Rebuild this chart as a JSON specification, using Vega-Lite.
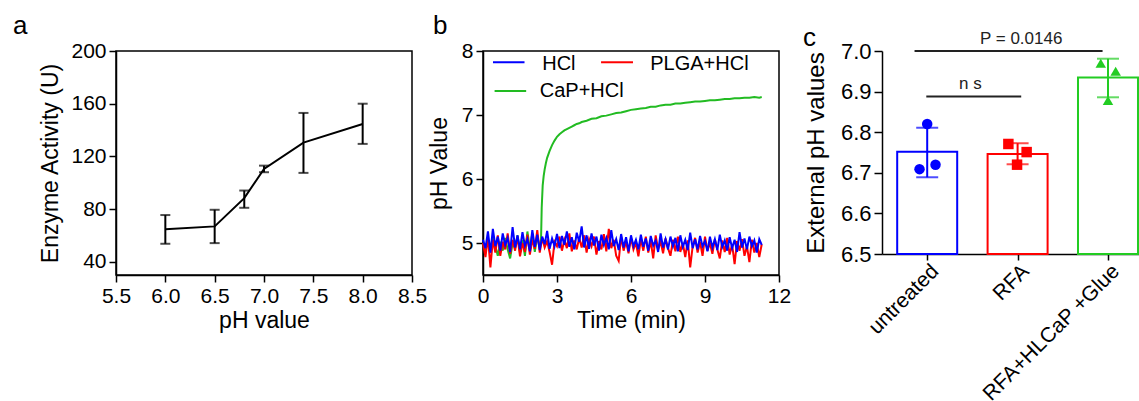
{
"$schema":"https://vega.github.io/schema/vega-lite/v6.json",
"background":"white",
"padding":{"left":12,"top":12,"right":0,"bottom":0},
"config":{
 "font":"Liberation Sans",
 "view":{"stroke":"black","strokeWidth":1.5},
 "axis":{"domainColor":"black","domainWidth":1.5,"tickColor":"black","tickWidth":1.5,"tickSize":7,"labelColor":"black","titleColor":"black","labelFontSize":21,"titleFontSize":23,"titleFontWeight":"normal","grid":false,"labelFlush":false,"labelPadding":3,"labelOverlap":false},
 "title":{"fontSize":26,"fontWeight":"normal","anchor":"start","frame":"group","color":"black","offset":1}
},
"datasets":{
 "enz":[{"ph":6.0,"mean":64.8,"lo":53.7,"hi":75.5},{"ph":6.5,"mean":66.9,"lo":54.2,"hi":79.5},{"ph":6.8,"mean":88.3,"lo":81,"hi":94.1},{"ph":7.0,"mean":110.5,"lo":108,"hi":113},{"ph":7.4,"mean":130.5,"lo":107.5,"hi":153},{"ph":8.0,"mean":144.6,"lo":129.5,"hi":160}],
 "noise":[
{"t":0,"HCl":5.05,"PLGA+HCl":5.0},{"t":0.1,"HCl":4.92,"PLGA+HCl":4.78},{"t":0.2,"HCl":5.18,"PLGA+HCl":5.1},{"t":0.3,"HCl":4.85,"PLGA+HCl":4.62},{"t":0.4,"HCl":5.22,"PLGA+HCl":5.05},{"t":0.5,"HCl":4.95,"PLGA+HCl":4.85},{"t":0.6,"HCl":5.1,"PLGA+HCl":5.12},{"t":0.7,"HCl":4.88,"PLGA+HCl":4.8},{"t":0.8,"HCl":5.15,"PLGA+HCl":5.02},{"t":0.9,"HCl":4.97,"PLGA+HCl":4.9},
{"t":1.0,"HCl":5.08,"PLGA+HCl":5.15},{"t":1.1,"HCl":4.86,"PLGA+HCl":4.83},{"t":1.2,"HCl":5.25,"PLGA+HCl":5.05},{"t":1.3,"HCl":4.93,"PLGA+HCl":4.88},{"t":1.4,"HCl":5.12,"PLGA+HCl":5.1},{"t":1.5,"HCl":4.9,"PLGA+HCl":4.79},{"t":1.6,"HCl":5.17,"PLGA+HCl":5.0},{"t":1.7,"HCl":4.96,"PLGA+HCl":4.86},{"t":1.8,"HCl":5.06,"PLGA+HCl":5.13},{"t":1.9,"HCl":4.87,"PLGA+HCl":4.82},
{"t":2.0,"HCl":5.2,"PLGA+HCl":5.05},{"t":2.1,"HCl":4.94,"PLGA+HCl":4.91},{"t":2.2,"HCl":5.13,"PLGA+HCl":5.2},{"t":2.3,"HCl":4.89,"PLGA+HCl":4.85},{"t":2.4,"HCl":5.1,"PLGA+HCl":5.08},{"t":2.5,"HCl":4.98,"PLGA+HCl":4.93},{"t":2.6,"HCl":5.19,"PLGA+HCl":5.03},{"t":2.7,"HCl":4.91,"PLGA+HCl":4.86},{"t":2.8,"HCl":5.07,"PLGA+HCl":4.66},{"t":2.9,"HCl":4.95,"PLGA+HCl":5.02},
{"t":3.0,"HCl":5.14,"PLGA+HCl":4.95},{"t":3.1,"HCl":4.92,"PLGA+HCl":5.1},{"t":3.2,"HCl":5.11,"PLGA+HCl":4.88},{"t":3.3,"HCl":4.97,"PLGA+HCl":5.05},{"t":3.4,"HCl":5.18,"PLGA+HCl":4.92},{"t":3.5,"HCl":4.94,"PLGA+HCl":5.15},{"t":3.6,"HCl":5.09,"PLGA+HCl":4.87},{"t":3.7,"HCl":4.9,"PLGA+HCl":5.04},{"t":3.8,"HCl":5.16,"PLGA+HCl":4.9},{"t":3.9,"HCl":5.02,"PLGA+HCl":5.08},
{"t":4.0,"HCl":5.26,"PLGA+HCl":4.93},{"t":4.1,"HCl":4.93,"PLGA+HCl":5.12},{"t":4.2,"HCl":5.12,"PLGA+HCl":4.85},{"t":4.3,"HCl":4.91,"PLGA+HCl":5.06},{"t":4.4,"HCl":5.15,"PLGA+HCl":4.95},{"t":4.5,"HCl":4.96,"PLGA+HCl":5.1},{"t":4.6,"HCl":5.1,"PLGA+HCl":4.82},{"t":4.7,"HCl":4.88,"PLGA+HCl":5.03},{"t":4.8,"HCl":5.13,"PLGA+HCl":4.9},{"t":4.9,"HCl":4.97,"PLGA+HCl":5.14},
{"t":5.0,"HCl":5.08,"PLGA+HCl":4.87},{"t":5.1,"HCl":4.9,"PLGA+HCl":5.22},{"t":5.2,"HCl":5.2,"PLGA+HCl":4.92},{"t":5.3,"HCl":4.95,"PLGA+HCl":5.05},{"t":5.4,"HCl":5.06,"PLGA+HCl":4.8},{"t":5.5,"HCl":4.89,"PLGA+HCl":4.72},{"t":5.6,"HCl":5.14,"PLGA+HCl":5.1},{"t":5.7,"HCl":4.93,"PLGA+HCl":4.88},{"t":5.8,"HCl":5.09,"PLGA+HCl":5.02},{"t":5.9,"HCl":4.87,"PLGA+HCl":4.84},
{"t":6.0,"HCl":5.12,"PLGA+HCl":5.08},{"t":6.1,"HCl":4.95,"PLGA+HCl":4.9},{"t":6.2,"HCl":5.05,"PLGA+HCl":5.0},{"t":6.3,"HCl":4.9,"PLGA+HCl":4.79},{"t":6.4,"HCl":5.13,"PLGA+HCl":5.06},{"t":6.5,"HCl":4.94,"PLGA+HCl":4.88},{"t":6.6,"HCl":5.07,"PLGA+HCl":5.1},{"t":6.7,"HCl":4.88,"PLGA+HCl":4.85},{"t":6.8,"HCl":5.11,"PLGA+HCl":5.03},{"t":6.9,"HCl":4.96,"PLGA+HCl":4.76},
{"t":7.0,"HCl":5.04,"PLGA+HCl":5.12},{"t":7.1,"HCl":4.86,"PLGA+HCl":4.9},{"t":7.2,"HCl":5.15,"PLGA+HCl":5.02},{"t":7.3,"HCl":4.93,"PLGA+HCl":4.84},{"t":7.4,"HCl":5.06,"PLGA+HCl":5.07},{"t":7.5,"HCl":4.9,"PLGA+HCl":4.92},{"t":7.6,"HCl":5.1,"PLGA+HCl":4.8},{"t":7.7,"HCl":4.95,"PLGA+HCl":5.05},{"t":7.8,"HCl":5.08,"PLGA+HCl":4.87},{"t":7.9,"HCl":4.87,"PLGA+HCl":5.1},
{"t":8.0,"HCl":5.12,"PLGA+HCl":4.86},{"t":8.1,"HCl":4.94,"PLGA+HCl":5.0},{"t":8.2,"HCl":5.05,"PLGA+HCl":4.78},{"t":8.3,"HCl":4.89,"PLGA+HCl":5.04},{"t":8.4,"HCl":5.16,"PLGA+HCl":4.62},{"t":8.5,"HCl":4.92,"PLGA+HCl":4.95},{"t":8.6,"HCl":5.06,"PLGA+HCl":5.08},{"t":8.7,"HCl":4.9,"PLGA+HCl":4.85},{"t":8.8,"HCl":5.11,"PLGA+HCl":5.02},{"t":8.9,"HCl":4.95,"PLGA+HCl":4.8},
{"t":9.0,"HCl":5.03,"PLGA+HCl":5.1},{"t":9.1,"HCl":4.87,"PLGA+HCl":4.88},{"t":9.2,"HCl":5.1,"PLGA+HCl":5.0},{"t":9.3,"HCl":4.93,"PLGA+HCl":4.83},{"t":9.4,"HCl":5.06,"PLGA+HCl":5.06},{"t":9.5,"HCl":4.89,"PLGA+HCl":4.9},{"t":9.6,"HCl":5.13,"PLGA+HCl":4.76},{"t":9.7,"HCl":4.94,"PLGA+HCl":5.04},{"t":9.8,"HCl":5.04,"PLGA+HCl":4.86},{"t":9.9,"HCl":4.88,"PLGA+HCl":5.08},
{"t":10.0,"HCl":5.09,"PLGA+HCl":4.82},{"t":10.1,"HCl":4.92,"PLGA+HCl":4.98},{"t":10.2,"HCl":5.05,"PLGA+HCl":4.67},{"t":10.3,"HCl":4.86,"PLGA+HCl":5.03},{"t":10.4,"HCl":5.17,"PLGA+HCl":4.88},{"t":10.5,"HCl":4.93,"PLGA+HCl":5.06},{"t":10.6,"HCl":5.07,"PLGA+HCl":4.8},{"t":10.7,"HCl":4.9,"PLGA+HCl":4.95},{"t":10.8,"HCl":5.1,"PLGA+HCl":4.7},{"t":10.9,"HCl":4.95,"PLGA+HCl":5.05},
{"t":11.0,"HCl":5.04,"PLGA+HCl":4.85},{"t":11.1,"HCl":4.85,"PLGA+HCl":5.0},{"t":11.2,"HCl":5.06,"PLGA+HCl":4.78},{"t":11.3,"HCl":4.97,"PLGA+HCl":4.98}
 ],
 "cap":[
{"t":0,"CaP+HCl":5.0},{"t":0.1,"CaP+HCl":4.9},{"t":0.2,"CaP+HCl":5.05},{"t":0.3,"CaP+HCl":4.85},{"t":0.4,"CaP+HCl":5.1},{"t":0.5,"CaP+HCl":4.95},{"t":0.6,"CaP+HCl":4.8},{"t":0.7,"CaP+HCl":5.02},{"t":0.8,"CaP+HCl":4.88},{"t":0.9,"CaP+HCl":5.08},
{"t":1.0,"CaP+HCl":4.9},{"t":1.1,"CaP+HCl":4.76},{"t":1.2,"CaP+HCl":5.0},{"t":1.3,"CaP+HCl":4.92},{"t":1.4,"CaP+HCl":5.12},{"t":1.5,"CaP+HCl":4.85},{"t":1.6,"CaP+HCl":5.05},{"t":1.7,"CaP+HCl":4.8},{"t":1.8,"CaP+HCl":5.18},{"t":1.9,"CaP+HCl":4.9},
{"t":2.0,"CaP+HCl":5.15},{"t":2.1,"CaP+HCl":4.86},{"t":2.2,"CaP+HCl":5.1},{"t":2.3,"CaP+HCl":4.95},{"t":2.35,"CaP+HCl":5.0},{"t":2.38,"CaP+HCl":5.55},{"t":2.42,"CaP+HCl":5.9},{"t":2.46,"CaP+HCl":6.05},{"t":2.5,"CaP+HCl":6.15},{"t":2.55,"CaP+HCl":6.25},
{"t":2.6,"CaP+HCl":6.33},{"t":2.7,"CaP+HCl":6.44},{"t":2.8,"CaP+HCl":6.53},{"t":2.9,"CaP+HCl":6.6},{"t":3.0,"CaP+HCl":6.66},{"t":3.1,"CaP+HCl":6.7},{"t":3.2,"CaP+HCl":6.73},{"t":3.3,"CaP+HCl":6.76},{"t":3.4,"CaP+HCl":6.78},{"t":3.5,"CaP+HCl":6.8},
{"t":3.6,"CaP+HCl":6.82},{"t":3.7,"CaP+HCl":6.84},{"t":3.8,"CaP+HCl":6.86},{"t":3.9,"CaP+HCl":6.87},{"t":4.0,"CaP+HCl":6.89},{"t":4.2,"CaP+HCl":6.91},{"t":4.4,"CaP+HCl":6.94},{"t":4.6,"CaP+HCl":6.95},{"t":4.8,"CaP+HCl":6.98},{"t":5.0,"CaP+HCl":6.99},
{"t":5.2,"CaP+HCl":7.01},{"t":5.4,"CaP+HCl":7.03},{"t":5.6,"CaP+HCl":7.04},{"t":5.8,"CaP+HCl":7.06},{"t":6.0,"CaP+HCl":7.08},{"t":6.2,"CaP+HCl":7.09},{"t":6.4,"CaP+HCl":7.1},{"t":6.6,"CaP+HCl":7.11},{"t":6.8,"CaP+HCl":7.13},{"t":7.0,"CaP+HCl":7.13},
{"t":7.2,"CaP+HCl":7.15},{"t":7.4,"CaP+HCl":7.16},{"t":7.6,"CaP+HCl":7.16},{"t":7.8,"CaP+HCl":7.18},{"t":8.0,"CaP+HCl":7.18},{"t":8.2,"CaP+HCl":7.19},{"t":8.4,"CaP+HCl":7.2},{"t":8.6,"CaP+HCl":7.21},{"t":8.8,"CaP+HCl":7.21},{"t":9.0,"CaP+HCl":7.22},
{"t":9.2,"CaP+HCl":7.23},{"t":9.4,"CaP+HCl":7.23},{"t":9.6,"CaP+HCl":7.24},{"t":9.8,"CaP+HCl":7.25},{"t":10.0,"CaP+HCl":7.25},{"t":10.2,"CaP+HCl":7.26},{"t":10.4,"CaP+HCl":7.26},{"t":10.6,"CaP+HCl":7.27},{"t":10.8,"CaP+HCl":7.27},{"t":11.0,"CaP+HCl":7.28},{"t":11.2,"CaP+HCl":7.27},{"t":11.3,"CaP+HCl":7.28}
 ],
 "cbars":[{"g":"untreated","i":1,"mean":6.752,"lo":6.689,"hi":6.811},{"g":"RFA","i":2,"mean":6.746,"lo":6.721,"hi":6.773},{"g":"RFA+HLCaP +Glue","i":3,"mean":6.935,"lo":6.886,"hi":6.981}],
 "cpts":[{"g":"untreated","xj":0.915,"v":6.709},{"g":"untreated","xj":1.0,"v":6.82},{"g":"untreated","xj":1.092,"v":6.72},{"g":"RFA","xj":1.898,"v":6.771},{"g":"RFA","xj":2.1,"v":6.751},{"g":"RFA","xj":1.994,"v":6.72},{"g":"RFA+HLCaP +Glue","xj":2.92,"v":6.97},{"g":"RFA+HLCaP +Glue","xj":3.085,"v":6.95},{"g":"RFA+HLCaP +Glue","xj":3.0,"v":6.878}],
 "brk":[{"x1":0.99,"x2":2.04,"y":6.888,"tx":1.478,"label":"n s"},{"x1":0.86,"x2":2.94,"y":7.0,"tx":2.04,"label":"P = 0.0146"}],
 "one":[{}]
},
"spacing":71,
"bounds":"flush",
"resolve":{"scale":{"color":"independent","shape":"independent","stroke":"independent"},"legend":{"color":"independent","shape":"independent","stroke":"independent"}},
"hconcat":[
 {
  "width":296,"height":224,
  "title":{"text":"a","dx":-103},
  "data":{"name":"enz"},
  "layer":[
   {"mark":{"type":"line","color":"black","strokeWidth":2},
    "encoding":{
     "x":{"field":"ph","type":"quantitative","scale":{"domain":[5.5,8.5],"nice":false,"padding":0},"axis":{"values":[5.5,6,6.5,7,7.5,8,8.5],"format":".1f","title":"pH value","titlePadding":3}},
     "y":{"field":"mean","type":"quantitative","scale":{"domain":[30,200],"nice":false,"zero":false,"padding":0},"axis":{"values":[40,80,120,160,200],"title":"Enzyme Activity (U)","titlePadding":8}}}},
   {"mark":{"type":"rule","color":"black","strokeWidth":2},
    "encoding":{"x":{"field":"ph","type":"quantitative"},"y":{"field":"lo","type":"quantitative"},"y2":{"field":"hi"}}},
   {"mark":{"type":"tick","orient":"horizontal","color":"black","size":10,"thickness":2},
    "encoding":{"x":{"field":"ph","type":"quantitative"},"y":{"field":"lo","type":"quantitative"}}},
   {"mark":{"type":"tick","orient":"horizontal","color":"black","size":10,"thickness":2},
    "encoding":{"x":{"field":"ph","type":"quantitative"},"y":{"field":"hi","type":"quantitative"}}}
  ]
 },
 {
  "spacing":103,
  "bounds":"flush",
  "resolve":{"scale":{"color":"independent","shape":"independent","stroke":"independent"},"legend":{"color":"independent","shape":"independent","stroke":"independent"}},
  "hconcat":[
   {
    "width":296,"height":224,
    "title":{"text":"b","dx":-50},
    "layer":[
     {"data":{"name":"cap"},
      "transform":[{"fold":["CaP+HCl"],"as":["series","pH"]}],
      "mark":{"type":"line","strokeWidth":2},
      "encoding":{
       "x":{"field":"t","type":"quantitative","scale":{"domain":[0,12],"nice":false,"padding":0},"axis":{"values":[0,3,6,9,12],"title":"Time (min)","titlePadding":3}},
       "y":{"field":"pH","type":"quantitative","scale":{"domain":[4.5,8],"nice":false,"zero":false,"padding":0},"axis":{"values":[5,6,7,8],"format":"d","title":"pH Value","titlePadding":10}},
       "color":{"field":"series","type":"nominal","scale":{"domain":["HCl","PLGA+HCl","CaP+HCl"],"range":["#0000ff","#ff0000","#22bb22"]},"legend":null}}},
     {"data":{"name":"noise"},
      "transform":[{"fold":["PLGA+HCl"],"as":["series","pH"]}],
      "mark":{"type":"line","strokeWidth":2},
      "encoding":{"x":{"field":"t","type":"quantitative"},"y":{"field":"pH","type":"quantitative"},"color":{"field":"series","type":"nominal"}}},
     {"data":{"name":"noise"},
      "transform":[{"fold":["HCl"],"as":["series","pH"]}],
      "mark":{"type":"line","strokeWidth":2},
      "encoding":{"x":{"field":"t","type":"quantitative"},"y":{"field":"pH","type":"quantitative"},"color":{"field":"series","type":"nominal"}}},
     {"data":{"name":"one"},
      "mark":{"type":"rule","strokeWidth":2},
      "encoding":{"x":{"datum":0.405,"type":"quantitative"},"x2":{"datum":1.683},"y":{"datum":7.824,"type":"quantitative"},"color":{"datum":"HCl","type":"nominal"}}},
     {"data":{"name":"one"},
      "mark":{"type":"rule","strokeWidth":2},
      "encoding":{"x":{"datum":4.786,"type":"quantitative"},"x2":{"datum":6.08},"y":{"datum":7.824,"type":"quantitative"},"color":{"datum":"PLGA+HCl","type":"nominal"}}},
     {"data":{"name":"one"},
      "mark":{"type":"rule","strokeWidth":2},
      "encoding":{"x":{"datum":0.47,"type":"quantitative"},"x2":{"datum":1.75},"y":{"datum":7.376,"type":"quantitative"},"color":{"datum":"CaP+HCl","type":"nominal"}}},
     {"data":{"name":"one"},
      "mark":{"type":"text","fontSize":20,"align":"left","baseline":"middle","color":"black"},
      "encoding":{"x":{"datum":2.4,"type":"quantitative"},"y":{"datum":7.8,"type":"quantitative"},"text":{"value":"HCl"}}},
     {"data":{"name":"one"},
      "mark":{"type":"text","fontSize":20,"align":"left","baseline":"middle","color":"black"},
      "encoding":{"x":{"datum":6.78,"type":"quantitative"},"y":{"datum":7.8,"type":"quantitative"},"text":{"value":"PLGA+HCl"}}},
     {"data":{"name":"one"},
      "mark":{"type":"text","fontSize":20,"align":"left","baseline":"middle","color":"black"},
      "encoding":{"x":{"datum":2.3,"type":"quantitative"},"y":{"datum":7.37,"type":"quantitative"},"text":{"value":"CaP+HCl"}}}
    ]
   },
   {
    "width":257,"height":203,
    "view":{"stroke":null},
    "title":{"text":"c","dx":-79,"offset":-21},
    "layer":[
     {"data":{"name":"cbars"},
      "mark":{"type":"bar","fill":"white","strokeWidth":2,"size":60,"orient":"vertical"},
      "encoding":{
       "x":{"field":"i","type":"quantitative","scale":{"domain":[0.5,3.343],"nice":false,"zero":false,"padding":0},"axis":{"values":[1,2,3],"title":null,"labelExpr":"datum.value == 1 ? 'untreated' : datum.value == 2 ? 'RFA' : 'RFA+HLCaP +Glue'","labelAngle":-45,"labelAlign":"right","labelBaseline":"top","labelPadding":0,"labelFontSize":21,"tickSize":6,"labelBound":false,"labelLimit":0}},
       "y":{"field":"mean","type":"quantitative","scale":{"domain":[6.5,7.0],"nice":false,"zero":false,"padding":0},"axis":{"values":[6.5,6.6,6.7,6.8,6.9,7.0],"format":".1f","title":"External pH values","labelFontSize":22,"titleFontSize":24,"titlePadding":12,"tickSize":8}},
       "y2":{"datum":6.5},
       "stroke":{"field":"g","type":"nominal","scale":{"domain":["untreated","RFA","RFA+HLCaP +Glue"],"range":["#0000ff","#ff0000","#22cc22"]},"legend":null}}},
     {"data":{"name":"cbars"},
      "mark":{"type":"rule","strokeWidth":2},
      "encoding":{"x":{"field":"i","type":"quantitative"},"y":{"field":"lo","type":"quantitative"},"y2":{"field":"hi"},
       "color":{"field":"g","type":"nominal","scale":{"domain":["untreated","RFA","RFA+HLCaP +Glue"],"range":["#0000ff","#ff0000","#22cc22"]},"legend":null}}},
     {"data":{"name":"cbars"},
      "mark":{"type":"tick","orient":"horizontal","size":22,"thickness":2},
      "encoding":{"x":{"field":"i","type":"quantitative"},"y":{"field":"lo","type":"quantitative"},"color":{"field":"g","type":"nominal","legend":null}}},
     {"data":{"name":"cbars"},
      "mark":{"type":"tick","orient":"horizontal","size":22,"thickness":2},
      "encoding":{"x":{"field":"i","type":"quantitative"},"y":{"field":"hi","type":"quantitative"},"color":{"field":"g","type":"nominal","legend":null}}},
     {"data":{"name":"cpts"},
      "mark":{"type":"point","filled":true,"opacity":1,"size":110},
      "encoding":{"x":{"field":"xj","type":"quantitative"},"y":{"field":"v","type":"quantitative"},"color":{"field":"g","type":"nominal","legend":null},
       "shape":{"field":"g","type":"nominal","scale":{"domain":["untreated","RFA","RFA+HLCaP +Glue"],"range":["circle","square","triangle-up"]},"legend":null}}},
     {"data":{"name":"brk"},
      "mark":{"type":"rule","strokeWidth":2,"color":"#222222"},
      "encoding":{"x":{"field":"x1","type":"quantitative"},"x2":{"field":"x2"},"y":{"field":"y","type":"quantitative"}}},
     {"data":{"name":"brk"},
      "mark":{"type":"text","fontSize":17,"baseline":"bottom","dy":-3,"color":"#222222"},
      "encoding":{"x":{"field":"tx","type":"quantitative"},"y":{"field":"y","type":"quantitative"},"text":{"field":"label"}}}
    ]
   }
  ]
 }
]
}
